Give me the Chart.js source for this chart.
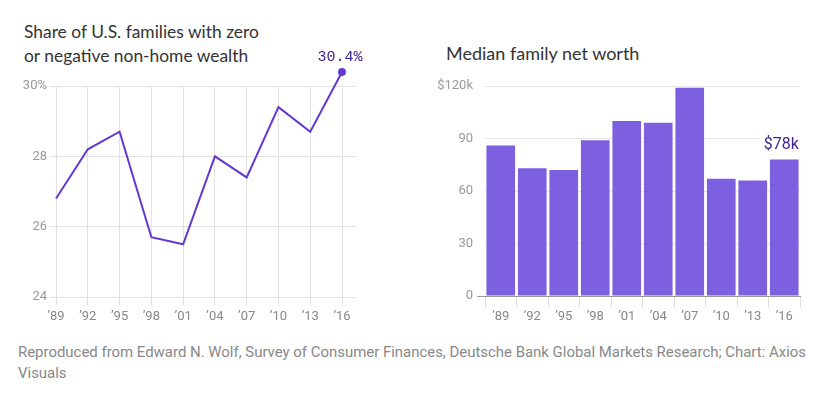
<!DOCTYPE html>
<html>
<head>
<meta charset="utf-8">
<script src="https://cdn.jsdelivr.net/npm/chart.js@4/dist/chart.umd.min.js"></script>
<style>
  body { margin: 0; width: 822px; height: 393px; background: #fff; position: relative; overflow: hidden; }
  .title { position: absolute; font-family: Lato, "Open Sans", sans-serif; font-size: 18px; line-height: 24px; color: #333; }
  .box { position: absolute; }
  #footer { position: absolute; left: 18px; top: 342px; font-family: "Liberation Sans Narrow", Roboto, sans-serif;
            font-size: 15px; line-height: 21px; color: #888; white-space: nowrap; transform-origin: 0 0; }
</style>
</head>
<body>
<div class="title" style="left:24px; top:20px; font-size:17.4px;">Share of U.S. families with zero<br>or negative non-home wealth</div>
<div class="title" style="left:446px; top:41px;">Median family net worth</div>
<div class="box" style="left:0; top:40px;"><canvas id="share" width="380" height="290"></canvas></div>
<div class="box" style="left:430px; top:40px;"><canvas id="worth" width="392" height="290"></canvas></div>
<div id="footer"><span id="footLine">Reproduced from Edward N. Wolf, Survey of Consumer Finances, Deutsche Bank Global Markets Research; Chart: Axios</span><br>Visuals</div>

<script>
// Datos
const years = [1989, 1992, 1995, 1998, 2001, 2004, 2007, 2010, 2013, 2016];
const yearLabels = ['’89', '’92', '’95', '’98', '’01', '’04', '’07', '’10', '’13', '’16'];
const shareZeroWealth = [26.8, 28.2, 28.7, 25.7, 25.5, 28.0, 27.4, 29.4, 28.7, 30.4]; // %
const medianNetWorth = [86, 73, 72, 89, 100, 99, 119, 67, 66, 78];                  // miles de $
const shareTicks = [24, 26, 28, 30];
const worthTicks = [0, 30, 60, 90, 120];

const purpleLine = '#6338d3';
const purpleBar = '#7d60df';
const labelPurple = '#3d2494';
const gridGray = '#e2e2e2';
const tickGray = '#999';

// Etiqueta (y punto) sobre el último elemento; el punto queda fuera del área, Chart.js no lo pinta
const lastLabel = {
  id: 'lastLabel',
  afterDatasetsDraw(chart, args, opts) {
    const meta = chart.getDatasetMeta(0);
    const el = meta.data[meta.data.length - 1];
    const c = chart.ctx;
    c.save();
    if (opts.dot) {
      c.fillStyle = opts.dot;
      c.beginPath();
      c.arc(el.x, el.y, 4, 0, Math.PI * 2);
      c.fill();
    }
    c.font = opts.font;
    const w = c.measureText(opts.text).width;
    const x = el.x + (opts.dx || 0);
    const y = el.y - opts.dy;
    if (opts.clear) {
      c.fillStyle = '#fff';
      c.fillRect(x - w / 2 - 4, y - 10, w + 8, 20);
    }
    c.fillStyle = opts.color;
    c.textAlign = 'center';
    c.textBaseline = 'middle';
    c.fillText(opts.text, x, y);
    c.restore();
  }
};

new Chart(document.getElementById('share'), {
  type: 'line',
  data: {
    datasets: [{
      data: years.map((y, i) => ({ x: y, y: shareZeroWealth[i] })),
      borderColor: purpleLine,
      backgroundColor: purpleLine,
      borderWidth: 2,
      tension: 0,
      clip: false,
      pointRadius: 0,
    }]
  },
  options: {
    responsive: false,
    animation: false,
    layout: { padding: { top: 46, right: 24, left: 0, bottom: 0 } },
    scales: {
      x: {
        type: 'linear',
        min: 1988.43,
        max: 2017.32,
        afterBuildTicks: (s) => { s.ticks = years.map(v => ({ value: v })); },
        afterFit: (s) => { s.height = 33; },
        border: { display: false },
        grid: { color: gridGray, tickColor: gridGray, tickLength: 8 },
        ticks: {
          padding: 4,
          color: '#888',
          font: { family: 'Roboto', size: 13 },
          maxRotation: 0,
          callback: (v) => yearLabels[years.indexOf(v)],
        }
      },
      y: {
        min: 24,
        max: 30,
        afterBuildTicks: (s) => { s.ticks = shareTicks.map(v => ({ value: v })); },
        afterFit: (s) => { s.width = 50; },
        border: { display: false },
        grid: { color: gridGray, drawTicks: false },
        ticks: {
          padding: 3,
          color: tickGray,
          font: { family: 'Roboto', size: 13 },
          callback: (v) => v === 30 ? '30%' : v,
        }
      }
    },
    plugins: {
      legend: { display: false },
      tooltip: { enabled: false },
      lastLabel: { text: '30.4%', font: '15px "Liberation Mono"', color: labelPurple, dy: 15, dx: -2, dot: purpleLine }
    }
  },
  plugins: [lastLabel]
});

new Chart(document.getElementById('worth'), {
  type: 'bar',
  data: {
    labels: yearLabels,
    datasets: [{
      data: medianNetWorth,
      backgroundColor: purpleBar,
      borderWidth: 0,
      categoryPercentage: 0.91,
      barPercentage: 1,
    }]
  },
  options: {
    responsive: false,
    animation: false,
    layout: { padding: { top: 46, right: 22, left: 0, bottom: 0 } },
    scales: {
      x: {
        afterFit: (s) => { s.height = 34; },
        border: { color: '#9a9a9a', width: 1 },
        grid: { drawOnChartArea: false, color: '#dcdcdc', tickColor: '#dcdcdc', tickLength: 11 },
        ticks: { padding: 2, color: '#888', font: { family: 'Roboto', size: 13 }, maxRotation: 0 }
      },
      y: {
        min: 0,
        max: 120,
        afterBuildTicks: (s) => { s.ticks = worthTicks.map(v => ({ value: v })); },
        afterFit: (s) => { s.width = 55; },
        border: { display: false },
        grid: {
          color: (c) => c.tick && c.tick.value === 0 ? '#9a9a9a' : '#e6e6e6',
          tickColor: (c) => c.tick && c.tick.value === 0 ? '#9a9a9a' : 'rgba(0,0,0,0)',
          tickLength: 8,
        },
        ticks: {
          padding: 4,
          color: tickGray,
          font: { family: 'Roboto', size: 13 },
          callback: (v) => v === 120 ? '$120k' : v,
        }
      }
    },
    plugins: {
      legend: { display: false },
      tooltip: { enabled: false },
      lastLabel: { text: '$78k', font: '16px Roboto', color: labelPurple, dy: 15, dx: -3, clear: true }
    }
  },
  plugins: [lastLabel]
});

// ajustar el pie al ancho del original (fuente estrecha)
const foot = document.getElementById('footer');
const lineW = document.getElementById('footLine').getBoundingClientRect().width;
foot.style.transform = 'scaleX(' + (788 / lineW) + ')';
</script>
</body>
</html>
